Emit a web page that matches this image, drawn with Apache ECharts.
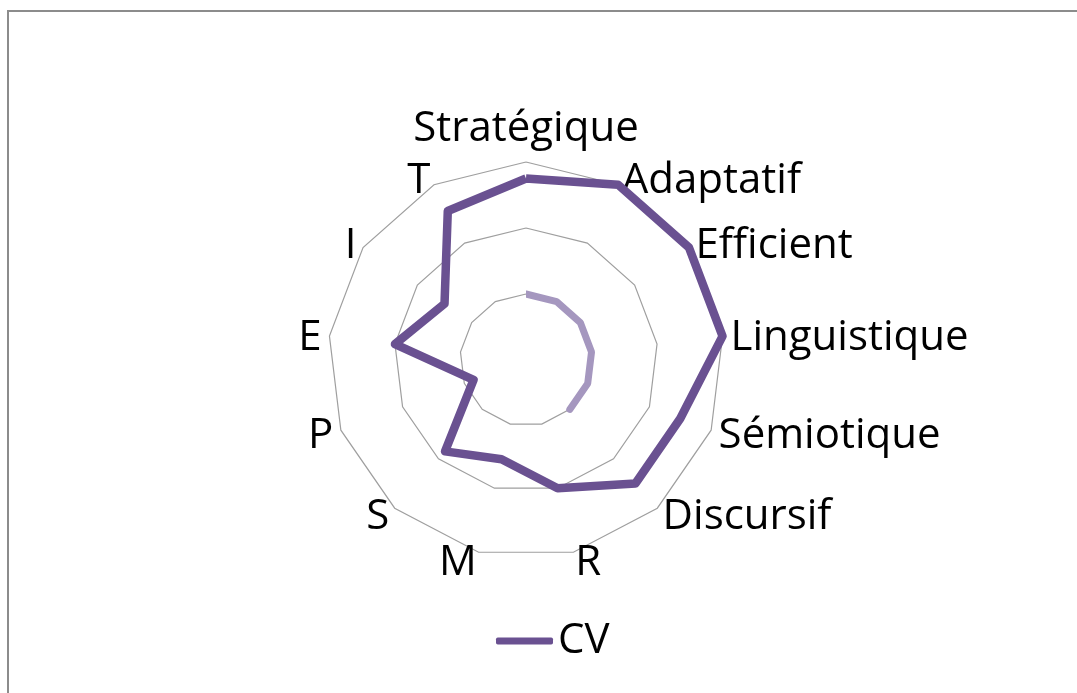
<!DOCTYPE html>
<html>
<head>
<meta charset="utf-8">
<script src="https://cdn.jsdelivr.net/npm/echarts@6/dist/echarts.min.js"></script>
<style>
  html, body { margin: 0; padding: 0; background: #fff; }
  #chart { width: 1077px; height: 693px; }
</style>
</head>
<body>
<div id="chart"></div>
<script>
// axes, clockwise from the top
const categories = ['Stratégique', 'Adaptatif', 'Efficient', 'Linguistique', 'Sémiotique', 'Discursif', 'R', 'M', 'S', 'P', 'E', 'I', 'T']
const cvValues = [2.75, 3, 3, 3, 2.5, 2.5, 2, 1.55, 1.85, 0.85, 2, 1.5, 2.55]
const innerValues = [1, 1, 1, 1, 1, 1, null, null, null, null, null, null, null]
const maxValue = 3

const mychart = echarts.init(document.getElementById('chart'))

// echarts radar runs counter-clockwise, so keep the first axis and reverse the rest
const order = [0].concat(categories.map((c, i) => i).slice(1).reverse())
const indicator = order.map(i => ({ name: categories[i], max: maxValue, min: 0 }))
const cvRadar = order.map(i => cvValues[i])

const center = [526, 360]
const radius = 198

const option = {
  animation: false,
  graphic: [
    {
      type: 'rect',
      shape: { x: 8, y: 11, width: 1200, height: 800 },
      style: { fill: 'none', stroke: '#8c8c8c', lineWidth: 2 },
      silent: true
    }
  ],
  legend: {
    data: [{ name: 'CV', icon: 'roundRect' }],
    left: 496,
    top: 620,
    padding: 0,
    itemWidth: 57,
    itemHeight: 7,
    textStyle: { color: '#000', fontSize: 42, fontFamily: 'Open Sans' }
  },
  radar: {
    center: center,
    radius: radius,
    startAngle: 90,
    splitNumber: 3,
    shape: 'polygon',
    indicator: indicator,
    nameGap: 8,
    axisName: {
      color: '#000',
      fontSize: 42,
      fontFamily: 'Open Sans',
      padding: [6, 0, 0, 0],
      formatter: function (name) {
        return name === 'Stratégique' ? '{top|' + name + '}' : name
      },
      rich: {
        top: { fontSize: 42, fontFamily: 'Open Sans', color: '#000', padding: [0, 0, 4, 0] }
      }
    },
    axisLine: { show: false },
    axisTick: { show: false },
    axisLabel: { show: false },
    splitArea: { show: false },
    splitLine: { lineStyle: { color: '#9f9f9f', width: 1.2 } }
  },
  polar: {
    center: center,
    radius: radius
  },
  angleAxis: {
    type: 'category',
    data: categories,
    startAngle: 90,
    clockwise: true,
    boundaryGap: false,
    axisLine: { show: false },
    axisTick: { show: false },
    axisLabel: { show: false },
    splitLine: { show: false }
  },
  radiusAxis: {
    min: 0,
    max: maxValue,
    axisLine: { show: false },
    axisTick: { show: false },
    axisLabel: { show: false },
    splitLine: { show: false }
  },
  series: [
    {
      name: 'Base',
      type: 'line',
      coordinateSystem: 'polar',
      symbol: 'none',
      connectNulls: false,
      lineStyle: { color: '#a597bf', width: 7, cap: 'round' },
      data: innerValues
    },
    {
      name: 'CV',
      type: 'radar',
      symbol: 'none',
      color: '#6a5191',
      lineStyle: { color: '#6a5191', width: 8.5 },
      data: [{ value: cvRadar, name: 'CV' }]
    }
  ]
}
option && mychart.setOption(option)
</script>
</body>
</html>
